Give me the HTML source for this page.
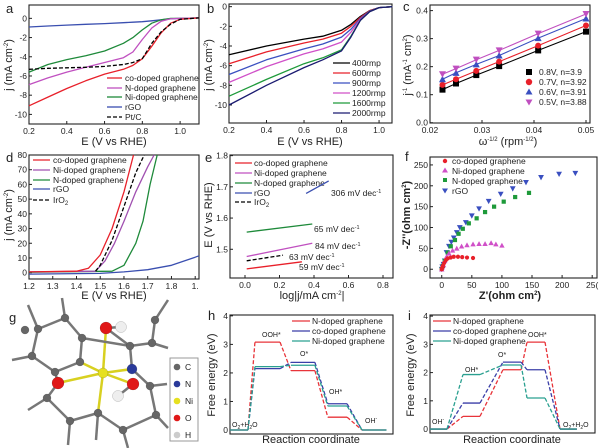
<!DOCTYPE html>
<html><head><meta charset="utf-8">
<style>
html,body{margin:0;padding:0;background:#fff;}
svg{display:block;font-family:"Liberation Sans",Arial,sans-serif;}
.t{font-size:8.5px;fill:#222;}
.lg{font-size:8.5px;fill:#222;}
.ti{font-size:11px;fill:#222;}
.pl{font-size:13px;fill:#222;}
</style></head>
<body>
<svg id="fig" width="600" height="448" viewBox="0 0 600 448" xmlns="http://www.w3.org/2000/svg">
<text class="pl" x="6" y="13">a</text>
<text class="pl" x="207" y="13">b</text>
<text class="pl" x="403" y="11">c</text>
<text class="pl" x="6" y="162">d</text>
<text class="pl" x="205" y="162">e</text>
<text class="pl" x="405" y="161">f</text>
<text class="pl" x="9" y="322">g</text>
<text class="pl" x="208" y="320">h</text>
<text class="pl" x="408" y="320">i</text>

<text class="ti" x="114" y="145" text-anchor="middle">E (V vs RHE)</text>
<text class="ti" transform="translate(12,65) rotate(-90)" text-anchor="middle">j (mA cm<tspan dy="-4" font-size="6">-2</tspan><tspan dy="4">)</tspan></text>
<text class="ti" x="310" y="145" text-anchor="middle">E (V vs RHE)</text>
<text class="ti" transform="translate(212,65) rotate(-90)" text-anchor="middle">j (mA cm<tspan dy="-4" font-size="6">-2</tspan><tspan dy="4">)</tspan></text>
<text class="ti" x="508" y="145" text-anchor="middle">ω<tspan dy="-4" font-size="6">-1/2</tspan><tspan dy="4"> (rpm</tspan><tspan dy="-4" font-size="6">-1/2</tspan><tspan dy="4">)</tspan></text>
<text class="ti" transform="translate(411,65) rotate(-90)" text-anchor="middle">j<tspan dy="-4" font-size="6">-1</tspan><tspan dy="4"> (mA</tspan><tspan dy="-4" font-size="6">-1</tspan><tspan dy="4"> cm</tspan><tspan dy="-4" font-size="6">2</tspan><tspan dy="4">)</tspan></text>
<text class="ti" x="114" y="299" text-anchor="middle">E (V vs RHE)</text>
<text class="ti" transform="translate(12,215) rotate(-90)" text-anchor="middle">j (mA cm<tspan dy="-4" font-size="6">-2</tspan><tspan dy="4">)</tspan></text>
<text class="ti" x="312" y="299" text-anchor="middle">log|j/mA cm<tspan dy="-4" font-size="6">-2</tspan><tspan dy="4">|</tspan></text>
<text class="ti" transform="translate(212,215) rotate(-90)" text-anchor="middle">E (V vs RHE)</text>
<text class="ti" x="510" y="299" text-anchor="middle" font-weight="bold">Z'(ohm cm<tspan dy="-4" font-size="6">2</tspan><tspan dy="4">)</tspan></text>
<text class="ti" transform="translate(410,215) rotate(-90)" text-anchor="middle" font-weight="bold">-Z''(ohm cm<tspan dy="-4" font-size="6">2</tspan><tspan dy="4">)</tspan></text>
<text class="ti" x="311" y="443" text-anchor="middle">Reaction coordinate</text>
<text class="ti" transform="translate(215,375) rotate(-90)" text-anchor="middle">Free energy (eV)</text>
<text class="ti" x="512" y="443" text-anchor="middle">Reaction coordinate</text>
<text class="ti" transform="translate(414,375) rotate(-90)" text-anchor="middle">Free energy (eV)</text>

<g>
<line x1="107" y1="78" x2="122" y2="78" stroke="#e8202a" stroke-width="1.3"/><text class="lg" x="125" y="81">co-doped graphene</text>
<line x1="107" y1="88" x2="122" y2="88" stroke="#c050c0" stroke-width="1.3"/><text class="lg" x="125" y="91">N-doped graphene</text>
<line x1="107" y1="97" x2="122" y2="97" stroke="#1e8a3a" stroke-width="1.3"/><text class="lg" x="125" y="100">Ni-doped graphene</text>
<line x1="107" y1="107" x2="122" y2="107" stroke="#3a4fb0" stroke-width="1.3"/><text class="lg" x="125" y="110">rGO</text>
<line x1="107" y1="117" x2="122" y2="117" stroke="#000" stroke-width="1.3" stroke-dasharray="4,2"/><text class="lg" x="125" y="120">Pt/C</text>
</g>
<g>
<line x1="333" y1="63" x2="350" y2="63" stroke="#000" stroke-width="1.3"/><text class="lg" x="352" y="66">400rmp</text>
<line x1="333" y1="73" x2="350" y2="73" stroke="#e8202a" stroke-width="1.3"/><text class="lg" x="352" y="76">600rmp</text>
<line x1="333" y1="83" x2="350" y2="83" stroke="#3a4fc0" stroke-width="1.3"/><text class="lg" x="352" y="86">900rmp</text>
<line x1="333" y1="93" x2="350" y2="93" stroke="#d050c8" stroke-width="1.3"/><text class="lg" x="352" y="96">1200rmp</text>
<line x1="333" y1="103" x2="350" y2="103" stroke="#1e9a3a" stroke-width="1.3"/><text class="lg" x="352" y="106">1600rmp</text>
<line x1="333" y1="113" x2="350" y2="113" stroke="#1a1a70" stroke-width="1.3"/><text class="lg" x="352" y="116">2000rmp</text>
</g>
<g>
<rect x="526" y="69" width="6" height="6" fill="#000"/><text class="lg" x="539" y="75">0.8V, n=3.9</text>
<circle cx="529" cy="82" r="3.2" fill="#e8202a"/><text class="lg" x="539" y="85">0.7V, n=3.92</text>
<polygon points="529,88.5 532.5,94.5 525.5,94.5" fill="#3a4fc0"/><text class="lg" x="539" y="95">0.6V, n=3.91</text>
<polygon points="525.5,99.5 532.5,99.5 529,105.5" fill="#c050c0"/><text class="lg" x="539" y="105">0.5V, n=3.88</text>
</g>
<g>
<line x1="33" y1="160" x2="50" y2="160" stroke="#e8202a" stroke-width="1.3"/><text class="lg" x="53" y="163">co-doped graphene</text>
<line x1="33" y1="170" x2="50" y2="170" stroke="#a050b0" stroke-width="1.3"/><text class="lg" x="53" y="173">Ni-doped graphene</text>
<line x1="33" y1="180" x2="50" y2="180" stroke="#1e8a3a" stroke-width="1.3"/><text class="lg" x="53" y="183">N-doped graphene</text>
<line x1="33" y1="189" x2="50" y2="189" stroke="#3a4fb0" stroke-width="1.3"/><text class="lg" x="53" y="192">rGO</text>
<line x1="33" y1="200" x2="50" y2="200" stroke="#000" stroke-width="1.3" stroke-dasharray="4,2"/><text class="lg" x="53" y="203">IrO<tspan dy="2" font-size="6">2</tspan></text>
</g>
<g>
<line x1="235" y1="163" x2="252" y2="163" stroke="#e8202a" stroke-width="1.3"/><text class="lg" x="254" y="166">co-doped graphene</text>
<line x1="235" y1="173" x2="252" y2="173" stroke="#c050c0" stroke-width="1.3"/><text class="lg" x="254" y="176">Ni-doped graphene</text>
<line x1="235" y1="183" x2="252" y2="183" stroke="#1e8a3a" stroke-width="1.3"/><text class="lg" x="254" y="186">N-doped graphene</text>
<line x1="235" y1="193" x2="252" y2="193" stroke="#3a4fb0" stroke-width="1.3"/><text class="lg" x="254" y="196">rGO</text>
<line x1="235" y1="202" x2="252" y2="202" stroke="#000" stroke-width="1.3" stroke-dasharray="4,2"/><text class="lg" x="254" y="205">IrO<tspan dy="2" font-size="6">2</tspan></text>
</g>
<g>
<text class="lg" x="331" y="196">306 mV dec<tspan dy="-3" font-size="5.5">-1</tspan></text>
<text class="lg" x="314" y="232">65 mV dec<tspan dy="-3" font-size="5.5">-1</tspan></text>
<text class="lg" x="315" y="249">84 mV dec<tspan dy="-3" font-size="5.5">-1</tspan></text>
<text class="lg" x="289" y="260">63 mV dec<tspan dy="-3" font-size="5.5">-1</tspan></text>
<text class="lg" x="299" y="270">59 mV dec<tspan dy="-3" font-size="5.5">-1</tspan></text>
</g>
<g>
<circle cx="445" cy="161" r="2.2" fill="#e8202a"/><text class="lg" x="452" y="164">co-doped graphene</text>
<polygon points="445,167.5 448,172.5 442,172.5" fill="#d050c8"/><text class="lg" x="452" y="174">Ni-doped graphene</text>
<rect x="443" y="178" width="4" height="4" fill="#1e9a3a"/><text class="lg" x="452" y="184">N-doped graphene</text>
<polygon points="442,188.5 448,188.5 445,193.5" fill="#3a4fc0"/><text class="lg" x="452" y="194">rGO</text>
</g>
<g>
<rect x="170" y="358" width="28" height="83" fill="#fff" stroke="#999" stroke-width="1"/>
<circle cx="177" cy="367" r="3.3" fill="#666"/><text class="lg" x="185" y="370">C</text>
<circle cx="177" cy="384" r="3.3" fill="#2a3a9a"/><text class="lg" x="185" y="387">N</text>
<circle cx="177" cy="401" r="3.3" fill="#e6e020"/><text class="lg" x="185" y="404">Ni</text>
<circle cx="177" cy="418" r="3.3" fill="#e01818"/><text class="lg" x="185" y="421">O</text>
<circle cx="177" cy="435" r="3.3" fill="#ccc"/><text class="lg" x="185" y="438">H</text>
</g>
<g>
<line x1="292" y1="321" x2="310" y2="321" stroke="#e8343a" stroke-width="1.2"/><text class="lg" x="312" y="324">N-doped graphene</text>
<line x1="292" y1="331" x2="310" y2="331" stroke="#3b3fa8" stroke-width="1.2"/><text class="lg" x="312" y="334">co-doped graphene</text>
<line x1="292" y1="341" x2="310" y2="341" stroke="#2aa090" stroke-width="1.2"/><text class="lg" x="312" y="344">Ni-doped graphene</text>
</g>
<g font-size="7" fill="#222">
<text x="262" y="337">OOH*</text><text x="300" y="356">O*</text><text x="329" y="394">OH*</text><text x="365" y="423">OH<tspan dy="-3" font-size="5">-</tspan></text>
<text x="232" y="427">O<tspan dy="2" font-size="5">2</tspan><tspan dy="-2">+H</tspan><tspan dy="2" font-size="5">2</tspan><tspan dy="-2">O</tspan></text>
</g>
<g>
<line x1="433" y1="321" x2="451" y2="321" stroke="#e8343a" stroke-width="1.2"/><text class="lg" x="453" y="324">N-doped graphene</text>
<line x1="433" y1="331" x2="451" y2="331" stroke="#3b3fa8" stroke-width="1.2"/><text class="lg" x="453" y="334">co-doped graphene</text>
<line x1="433" y1="341" x2="451" y2="341" stroke="#2aa090" stroke-width="1.2"/><text class="lg" x="453" y="344">Ni-doped graphene</text>
</g>
<g font-size="7" fill="#222">
<text x="432" y="424">OH<tspan dy="-3" font-size="5">-</tspan></text><text x="465" y="372">OH*</text><text x="498" y="357">O*</text><text x="528" y="337">OOH*</text>
<text x="563" y="427">O<tspan dy="2" font-size="5">2</tspan><tspan dy="-2">+H</tspan><tspan dy="2" font-size="5">2</tspan><tspan dy="-2">O</tspan></text>
</g>
</svg>
<script>
// ---- panel a data ----
const aPotential = [0.2,0.3,0.4,0.5,0.6,0.7,0.75,0.8,0.85,0.9,0.95,1.0,1.1];
const aCoDoped = [-9.1,-8.2,-7.3,-6.5,-5.8,-5.3,-4.9,-4.2,-2.9,-1.5,-0.5,-0.1,0.05];
const aNDoped = [-6.9,-6.2,-5.6,-5.1,-4.6,-4.1,-3.5,-2.2,-1.0,-0.3,-0.05,0,0.05];
const aNiDoped = [-5.6,-4.8,-4.3,-3.9,-3.4,-2.6,-2.0,-1.2,-0.5,-0.15,0,0,0.05];
const aRGO = [-0.9,-0.8,-0.7,-0.62,-0.55,-0.45,-0.4,-0.35,-0.25,-0.15,-0.05,0,0.05];
const aPtC = [-5.3,-5.2,-5.15,-5.1,-5.0,-4.8,-4.6,-4.2,-2.6,-1.4,-0.6,-0.1,0.05];
const aXTicks = [0.2,0.4,0.6,0.8,1.0];
const aYTicks = [0,-2,-4,-6,-8,-10];
// ---- panel b data ----
const bPotential = [0.2,0.4,0.6,0.7,0.8,0.85,0.9,0.95,1.0,1.07];
const b400 = [-4.9,-4.0,-3.3,-3.0,-2.4,-1.8,-1.0,-0.4,-0.1,0];
const b600 = [-5.8,-4.6,-3.7,-3.3,-2.7,-2.0,-1.1,-0.4,-0.1,0];
const b900 = [-6.9,-5.4,-4.3,-3.8,-3.1,-2.3,-1.2,-0.45,-0.1,0];
const b1200 = [-7.7,-6.1,-4.8,-4.3,-3.6,-2.6,-1.3,-0.5,-0.1,0];
const b1600 = [-9.1,-7.4,-5.8,-5.2,-4.4,-3.0,-1.4,-0.5,-0.1,0];
const b2000 = [-10.0,-8.0,-6.2,-5.4,-4.5,-3.1,-1.4,-0.5,-0.1,0];
const bXTicks = [0.2,0.4,0.6,0.8,1.0];
const bYTicks = [0,-2,-4,-6,-8,-10];
// ---- panel c data ----
const cOmega = [0.0224,0.025,0.0289,0.0333,0.0408,0.05];
const c08V = [0.118,0.14,0.17,0.202,0.258,0.325];
const c07V = [0.135,0.155,0.185,0.218,0.275,0.347];
const c06V = [0.155,0.178,0.208,0.24,0.302,0.372];
const c05V = [0.173,0.193,0.225,0.258,0.318,0.388];
const cXTicks = [0.02,0.03,0.04,0.05];
const cXLabels = ["0.02","0.03","0.04","0.05"];
const cYTicks = [0,0.1,0.2,0.3,0.4];
// ---- panel d data ----
const dCoE = [1.2,1.4,1.45,1.5,1.55,1.6,1.64];
const dCoJ = [0.5,1,3,12,30,55,80];
const dNiE = [1.2,1.48,1.52,1.56,1.6,1.65,1.7,1.727];
const dNiJ = [0.5,1,8,20,35,55,72,80];
const dIrE = [1.48,1.5,1.55,1.6,1.65,1.685];
const dIrJ = [1,5,22,45,68,80];
const dNE = [1.2,1.55,1.6,1.65,1.68,1.71,1.74];
const dNJ = [0.3,1,5,20,35,60,80];
const dRgoE = [1.2,1.5,1.6,1.7,1.8,1.9,1.916];
const dRgoJ = [-1,-0.5,0.5,2,5,10.5,11.5];
const dXTicks = [1.2,1.3,1.4,1.5,1.6,1.7,1.8,1.9];
const dXLabels = ["1.2","1.3","1.4","1.5","1.6","1.7","1.8","1."];
const dYTicks = [0,10,20,30,40,50,60,70,80];
// ---- panel e data (Tafel) ----
const eCoLog = [0.01,0.33], eCoE = [1.437,1.46];
const eIrLog = [0.01,0.22], eIrE = [1.463,1.481];
const eNiLog = [0.01,0.39], eNiE = [1.477,1.519];
const eNLog = [0.01,0.39], eNE = [1.555,1.581];
const eRgoLog = [0.354,0.485], eRgoE = [1.679,1.719];
const eXTicks = [0,0.2,0.4,0.6,0.8];
const eXLabels = ["0.0","0.2","0.4","0.6","0.8"];
const eYTicks = [1.5,1.6,1.7,1.8];
// ---- panel f data (Nyquist) ----
const fCoRe = [0,1,2,4,7,10,15,20,27,34,42,52];
const fCoIm = [0,4,8,15,22,26,28,30,30,29,28,27];
const fNiRe = [0,1,3,5,8,12,18,25,33,42,52,62,72,82,90,100];
const fNiIm = [0,5,10,20,30,38,45,50,55,58,60,61,61,63,60,57];
const fNRe = [0,2,5,10,15,22,28,35,45,58,72,87,103,122,145];
const fNIm = [0,8,20,40,55,70,85,97,110,122,137,150,162,173,183];
const fRgoRe = [0,1,3,5,8,12,16,20,25,30,40,50,62,78,98,118,140,165,195,222];
const fRgoIm = [0,6,12,20,40,55,65,75,88,100,112,128,145,163,180,193,208,220,228,230];
const fTicks = [0,50,100,150,200,250];
const fXLabels = ["0","50","100","150","200","25("];
// ---- panel h / i data (free energy) ----
const hStepStart = [0,1.53,3.74,6.0,8.1];
const hStepEnd = [1.1,3.07,5.21,7.18,9.6];
const hNDoped = [0,3.08,2.08,0.45,0];
const hCoDoped = [0,2.15,2.37,0.92,0];
const hNiDoped = [0,2.22,2.27,0.84,0];
const iStepStart = [0,2,4.42,5.88,7.88];
const iStepEnd = [1.03,3.03,5.52,6.97,8.9];
const iNDoped = [0,0.45,2.1,3.08,0];
const iCoDoped = [0,0.92,2.37,2.1,0];
const iNiDoped = [0,1.93,2.27,1.1,0];
const energyTicks = [0,1,2,3,4];

const NS = "http://www.w3.org/2000/svg";
const svg = document.getElementById('fig');
function mk(tag, attrs, parent){
  const e = document.createElementNS(NS, tag);
  for (const k in attrs) e.setAttribute(k, attrs[k]);
  (parent || svg).appendChild(e);
  return e;
}
function axes(p){
  const sx = v => p.x0 + (v - p.xd[0]) / (p.xd[1] - p.xd[0]) * (p.x1 - p.x0);
  const sy = v => p.y1 - (v - p.yd[0]) / (p.yd[1] - p.yd[0]) * (p.y1 - p.y0);
  const g = mk('g', {});
  
  
  const fr = mk('rect', {x:p.x0, y:p.y0, width:p.x1-p.x0, height:p.y1-p.y0, fill:'none', stroke:'#222', 'stroke-width':1.1}, g);
  
  
  (p.xt || []).forEach((v, i) => {
    const x = sx(v);
    const tk = mk('line', {x1:x, x2:x, y1:p.y1, y2:p.y1-3, stroke:'#222', 'stroke-width':1}, g);
    
    
    const t = mk('text', {x:x, y:p.y1+10, 'text-anchor':'middle', class:'t'}, g);
    t.textContent = p.xl ? p.xl[i] : String(v);
    
    
  });
  (p.yt || []).forEach((v, i) => {
    const y = sy(v);
    const tk = mk('line', {x1:p.x0, x2:p.x0+3, y1:y, y2:y, stroke:'#222', 'stroke-width':1}, g);
    
    
    const t = mk('text', {x:p.x0-2, y:y+3, 'text-anchor':'end', class:'t'}, g);
    t.textContent = p.yl ? p.yl[i] : String(v);
    
    
  });
  return {sx, sy};
}
function series(ax, xs, ys, color, name, dash, w){
  const pts = xs.map((x, i) => ax.sx(x).toFixed(1) + ',' + ax.sy(ys[i]).toFixed(1)).join(' ');
  const pl = mk('polyline', {points:pts, fill:'none', stroke:color, 'stroke-width':w || 1.3, 'stroke-dasharray':dash || 'none', 'stroke-linejoin':'round'});
  
  
}
function marker(ax, x, y, shape, color, r, name){
  const cx = ax.sx(x), cy = ax.sy(y);
  let e;
  if (shape === 'sq') e = mk('rect', {x:cx-r, y:cy-r, width:2*r, height:2*r, fill:color});
  else if (shape === 'ci') e = mk('circle', {cx:cx, cy:cy, r:r, fill:color});
  else if (shape === 'up') e = mk('polygon', {points:`${cx},${cy-r-0.5} ${cx+r+0.5},${cy+r} ${cx-r-0.5},${cy+r}`, fill:color});
  else e = mk('polygon', {points:`${cx-r-0.5},${cy-r} ${cx+r+0.5},${cy-r} ${cx},${cy+r+0.5}`, fill:color});
  
  
}

const A = axes({id:'a', x0:29, x1:199, y0:5, y1:124, xd:[0.2,1.1], yd:[-11,1.39], xt:aXTicks, xl:["0.2","0.4","0.6","0.8","1.0"], yt:aYTicks});
series(A, aPotential, aRGO, '#3a4fb0', 'a-rgo-line');
series(A, aPotential, aNiDoped, '#1e8a3a', 'a-ni-doped-line');
series(A, aPotential, aNDoped, '#c050c0', 'a-n-doped-line');
series(A, aPotential, aCoDoped, '#e8202a', 'a-co-doped-line');
series(A, aPotential, aPtC, '#000', 'a-ptc-line', '4,2');

const B = axes({id:'b', x0:229, x1:392, y0:4, y1:123, xd:[0.2,1.069], yd:[-11.83,0.27], xt:bXTicks, xl:["0.2","0.4","0.6","0.8","1.0"], yt:bYTicks});
series(B, bPotential, b400, '#000', 'b-400rpm-line');
series(B, bPotential, b600, '#e8202a', 'b-600rpm-line');
series(B, bPotential, b900, '#3a4fc0', 'b-900rpm-line');
series(B, bPotential, b1200, '#d050c8', 'b-1200rpm-line');
series(B, bPotential, b1600, '#1e9a3a', 'b-1600rpm-line');
series(B, bPotential, b2000, '#1a1a70', 'b-2000rpm-line');

const C = axes({id:'c', x0:430, x1:590, y0:5, y1:123, xd:[0.02,0.05077], yd:[-0.001,0.42], xt:cXTicks, xl:cXLabels, yt:cYTicks, yl:["0.0","0.1","0.2","0.3","0.4"]});
[[c08V,'#000','sq','0.8v'],[c07V,'#e8202a','ci','0.7v'],[c06V,'#3a4fc0','up','0.6v'],[c05V,'#c050c0','dn','0.5v']].forEach(s => {
  series(C, cOmega, s[0], s[1], 'c-fit-line-' + s[3], null, 1.1);
  cOmega.forEach((x, i) => marker(C, x, s[0][i], s[2], s[1], 3, 'c-point-' + s[3]));
});

const D = axes({id:'d', x0:29, x1:199, y0:155, y1:279, xd:[1.2,1.916], yd:[-4.3,80], xt:dXTicks, xl:dXLabels, yt:dYTicks});
series(D, dRgoE, dRgoJ, '#3a4fb0', 'd-rgo-line');
series(D, dNE, dNJ, '#1e8a3a', 'd-n-doped-line');
series(D, dNiE, dNiJ, '#a050b0', 'd-ni-doped-line');
series(D, dCoE, dCoJ, '#e8202a', 'd-co-doped-line');
series(D, dIrE, dIrJ, '#000', 'd-iro2-line', '4,2');

const E = axes({id:'e', x0:230, x1:393, y0:155, y1:278, xd:[-0.087,0.858], yd:[1.408,1.802], xt:eXTicks, xl:eXLabels, yt:eYTicks});
series(E, eCoLog, eCoE, '#e8202a', 'e-co-doped-tafel');
series(E, eIrLog, eIrE, '#000', 'e-iro2-tafel', '4,2');
series(E, eNiLog, eNiE, '#c050c0', 'e-ni-doped-tafel');
series(E, eNLog, eNE, '#1e8a3a', 'e-n-doped-tafel');
series(E, eRgoLog, eRgoE, '#3a4fb0', 'e-rgo-tafel');

const F = axes({id:'f', x0:430, x1:597, y0:157, y1:278, xd:[-19.5,258], yd:[-21,269], xt:fTicks, xl:fXLabels, yt:fTicks});
fRgoRe.forEach((x, i) => marker(F, x, fRgoIm[i], 'dn', '#3a4fc0', 2.4, 'f-rgo-point'));
fNRe.forEach((x, i) => marker(F, x, fNIm[i], 'sq', '#1e9a3a', 2.1, 'f-n-doped-point'));
fNiRe.forEach((x, i) => marker(F, x, fNiIm[i], 'up', '#d050c8', 2.2, 'f-ni-doped-point'));
fCoRe.forEach((x, i) => marker(F, x, fCoIm[i], 'ci', '#e8202a', 2.1, 'f-co-doped-point'));

function energy(ax, st, en, vals, color, name){
  vals.forEach((v, k) => {
    const l = mk('line', {x1:ax.sx(st[k]), x2:ax.sx(en[k]), y1:ax.sy(v), y2:ax.sy(v), stroke:color, 'stroke-width':1.3});
    
    
    if (k > 0) {
      const c = mk('line', {x1:ax.sx(en[k-1]), x2:ax.sx(st[k]), y1:ax.sy(vals[k-1]), y2:ax.sy(v), stroke:color, 'stroke-width':1.3, 'stroke-dasharray':'4,2'});
      
      
    }
  });
}
const H = axes({id:'h', x0:230, x1:393, y0:315, y1:434, xd:[0,10], yd:[-0.14,4.03], yt:energyTicks});
energy(H, hStepStart, hStepEnd, hNDoped, '#e8343a', 'h-n-doped');
energy(H, hStepStart, hStepEnd, hCoDoped, '#3b3fa8', 'h-co-doped');
energy(H, hStepStart, hStepEnd, hNiDoped, '#2aa090', 'h-ni-doped');
const I = axes({id:'i', x0:430, x1:595, y0:315, y1:433, xd:[0,10], yd:[-0.14,4.04], yt:energyTicks});
energy(I, iStepStart, iStepEnd, iNDoped, '#e8343a', 'i-n-doped');
energy(I, iStepStart, iStepEnd, iCoDoped, '#3b3fa8', 'i-co-doped');
energy(I, iStepStart, iStepEnd, iNiDoped, '#2aa090', 'i-ni-doped');

const atoms = {
  Ni:[103,373,'#e6e020',5], Ot:[106,328,'#e01818',6], Ht:[121,327,'#eee',5.5], N:[132,369,'#2a3a9a',5],
  Or:[133,384,'#e01818',6], Hr:[118,396,'#eee',5.5], Ol:[58,383,'#e01818',6],
  c1:[38,329,'#666',4], c2:[65,318,'#666',4], c3:[82,338,'#666',4], c4:[80,362,'#666',4], c5:[55,372,'#666',4], c6:[32,356,'#666',4],
  c7:[130,346,'#666',4], c8:[152,343,'#666',4], c9:[155,320,'#666',4], c10:[150,386,'#666',4], c11:[156,415,'#666',4],
  c12:[123,430,'#666',4], c13:[98,413,'#666',4], c14:[70,421,'#666',4], c15:[47,398,'#666',4], c16:[25,330,'#666',4]
};
const bonds = [['Ni','Ot'],['Ni','N'],['Ni','Or'],['Ni','Ol'],['Ni','c4'],['Ni','c13'],['Ot','Ht'],['Or','Hr'],['N','c7'],['N','c10'],
  ['c7','c8'],['c8','c9'],['c1','c2'],['c2','c3'],['c3','c4'],['c4','c5'],['c5','c6'],['c6','c1'],['c3','c7'],['c7','Ot'],
  ['Ol','c15'],['c15','c14'],['c14','c13'],['c13','c12'],['c12','c11'],['c11','c10'],['c5','Ol']];
const mol = mk('g', {});


const stubs = [[38,329,28,305],[65,318,62,298],[155,320,168,300],[152,343,168,348],[150,386,167,384],[156,415,168,428],[123,430,128,448],[70,421,68,445],[47,398,28,410],[32,356,12,360],[98,413,96,440]];
stubs.forEach(s => { const l = mk('line', {x1:s[0], y1:s[1], x2:s[2], y2:s[3], stroke:'#777', 'stroke-width':2.5}, mol);   });
bonds.forEach(b => {
  const p = atoms[b[0]], q = atoms[b[1]];
  const col = (b[0] === 'Ni') ? '#d8d020' : '#777';
  const l = mk('line', {x1:p[0], y1:p[1], x2:q[0], y2:q[1], stroke:col, 'stroke-width':2.5}, mol);
  
  
});
Object.keys(atoms).forEach(k => {
  const a = atoms[k];
  const c = mk('circle', {cx:a[0], cy:a[1], r:a[3], fill:a[2], stroke:'rgba(0,0,0,0.25)', 'stroke-width':0.5}, mol);
  
  
});
</script>
</body></html>
